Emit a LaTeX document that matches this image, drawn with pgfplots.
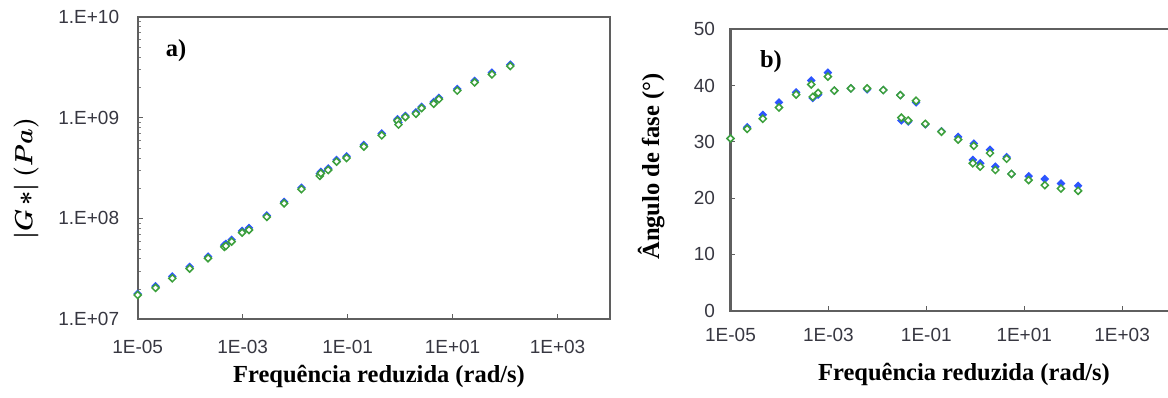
\documentclass[border=0pt]{standalone}
\usepackage{fontspec}
\setmainfont{Liberation Serif}
\newfontfamily\sansticks{Liberation Sans}
\usepackage{amsmath}
\usepackage{bm}
\usepackage{pgfplots}
\pgfplotsset{compat=1.18}
\usepackage{pgfplotstable}

\definecolor{gblue}{RGB}{45,85,255}
\definecolor{ggreen}{RGB}{60,160,60}
\definecolor{axgray}{RGB}{95,95,95}
\definecolor{ticktext}{RGB}{55,55,65}

% reduced frequency (rad/s), |G*| (Pa) and phase angle (deg) for the two series
\pgfplotstableread{
f        G1       G2       d1    d2
1.00e-5  1.79e7   1.74e7   30.6  30.6
2.19e-5  2.13e7   2.05e7   32.6  32.3
4.57e-5  2.66e7   2.55e7   34.8  34.1
9.77e-5  3.31e7   3.18e7   37.0  36.1
2.19e-4  4.19e7   4.03e7   38.8  38.4
4.47e-4  5.43e7   5.22e7   40.9  40.2
4.79e-4  5.60e7   5.33e7   37.8  38.0
6.17e-4  6.14e7   5.89e7   38.4  38.7
9.77e-4  7.52e7   7.23e7   42.3  41.6
1.32e-3  8.05e7   7.69e7   39.1  39.1
2.88e-3  1.07e8   1.035e8  39.5  39.5
6.17e-3  1.46e8   1.41e8   39.3  39.5
1.32e-2  2.02e8   1.95e8   39.2  39.2
2.95e-2  2.78e8   2.64e8   38.3  38.3
3.09e-2  2.90e8   2.80e8   33.8  34.3
4.27e-2  3.13e8   3.02e8   33.6  33.8
6.17e-2  3.80e8   3.66e8   37.0  37.3
9.55e-2  4.13e8   3.97e8   33.1  33.2
0.204    5.35e8   5.15e8   31.9  31.8
0.447    6.95e8   6.67e8   30.9  30.4
0.891    9.62e8   9.31e8   26.8  26.2
0.933    8.90e8   8.51e8   29.7  29.3
1.26     1.04e9   1.01e9   26.2  25.6
2.00     1.13e9   1.09e9   28.6  28.0
2.57     1.28e9   1.24e9   25.6  25.0
4.37     1.43e9   1.37e9   27.3  27.0
5.50     1.57e9   1.52e9   24.3  24.3
12.3     1.92e9   1.85e9   23.9  23.2
26.3     2.31e9   2.23e9   23.4  22.3
56.2     2.79e9   2.68e9   22.6  21.7
126      3.35e9   3.24e9   22.2  21.3
}\rheodata

\begin{document}
\begin{tikzpicture}

% a) dynamic modulus
\begin{axis}[
  xmode=log, ymode=log,
  xmin=1e-5, xmax=1e4,
  ymin=1e7, ymax=1e10,
  scale only axis,
  clip=false,
  at={(137.7pt,78.7pt)}, anchor=south west,
  width=472.3pt, height=302.6pt,
  xtick={1e-5,1e-3,1e-1,1e1,1e3},
  xticklabels={1E-05,1E-03,1E-01,1E+01,1E+03},
  ytick={1e7,1e8,1e9,1e10},
  yticklabels={1.E+07,1.E+08,1.E+09,1.E+10},
  minor xtick={}, minor ytick={},
  tick pos=left,
  tick align=inside,
  major tick length=5pt,
  separate axis lines,
  axis line style={draw=axgray, line width=2.2pt},
  major tick style={draw=axgray, line width=1.1pt},
  tick label style={font=\sansticks\fontsize{19}{22}\selectfont, text=ticktext, inner sep=0pt},
  xticklabel style={anchor=north, yshift=-20.7pt},
  yticklabel style={anchor=east, xshift=-18.4pt},
  label style={font=\fontsize{24.5}{28}\selectfont\bfseries},
  xlabel={Frequência reduzida (rad/s)},
  xlabel style={at={(axis description cs:0.511,-0.19)}, anchor=center},
  ylabel={$\bm{|G\,{*}|\ (Pa)}$},
  ylabel style={at={(axis description cs:-0.236,0.465)}, anchor=center},
]
% frame
\draw[axgray, line width=2.2pt] (rel axis cs:0,0) rectangle (rel axis cs:1,1);
\addplot[only marks, mark=square*, mark size=2.5pt,
  mark options={rotate=45, draw=gblue, fill=gblue, line width=1.1pt}]
  table[x=f, y=G1] {\rheodata};
\addplot[only marks, mark=square*, mark size=2.5pt,
  mark options={rotate=45, draw=ggreen, fill=white, line width=1.5pt}]
  table[x=f, y=G2] {\rheodata};
\end{axis}

% b) phase angle
\begin{axis}[
  xmode=log,
  xmin=1e-5, xmax=1e4,
  ymin=0, ymax=50,
  scale only axis,
  clip=false,
  at={(730.5pt,87.3pt)}, anchor=south west,
  width=440.6pt, height=281.4pt,
  xtick={1e-5,1e-3,1e-1,1e1,1e3},
  xticklabels={1E-05,1E-03,1E-01,1E+01,1E+03},
  ytick={0,10,20,30,40,50},
  yticklabels={0,10,20,30,40,50},
  minor xtick={}, minor ytick={},
  tick pos=left,
  tick align=inside,
  major tick length=5pt,
  separate axis lines,
  axis line style={draw=axgray, line width=2.2pt},
  major tick style={draw=axgray, line width=1.1pt},
  tick label style={font=\sansticks\fontsize{19}{22}\selectfont, text=ticktext, inner sep=0pt},
  xticklabel style={anchor=north, yshift=-17.6pt},
  yticklabel style={anchor=east, xshift=-15.3pt},
  label style={font=\fontsize{24.5}{28}\selectfont\bfseries},
  xlabel={Frequência reduzida (rad/s)},
  xlabel style={at={(axis description cs:0.53,-0.225)}, anchor=center},
  ylabel={Ângulo de fase (°)},
  ylabel style={at={(axis description cs:-0.18,0.512)}, anchor=center},
]
% frame
\draw[axgray, line width=2.2pt] (rel axis cs:0,0) rectangle (rel axis cs:1,1);
\addplot[only marks, mark=square*, mark size=2.5pt,
  mark options={rotate=45, draw=gblue, fill=gblue, line width=1.1pt}]
  table[x=f, y=d1] {\rheodata};
\addplot[only marks, mark=square*, mark size=2.5pt,
  mark options={rotate=45, draw=ggreen, fill=white, line width=1.5pt}]
  table[x=f, y=d2] {\rheodata};
\end{axis}

% panel tags
\node[font=\fontsize{24.5}{28}\selectfont\bfseries] at (176pt,347pt) {a)};
\node[font=\fontsize{24.5}{28}\selectfont\bfseries] at (771pt,336.3pt) {b)};

% the page is cut at the right edge of the second frame
\pgfresetboundingbox
\path[use as bounding box] (0pt,0pt) rectangle (1168pt,398pt);
\end{tikzpicture}
\end{document}
